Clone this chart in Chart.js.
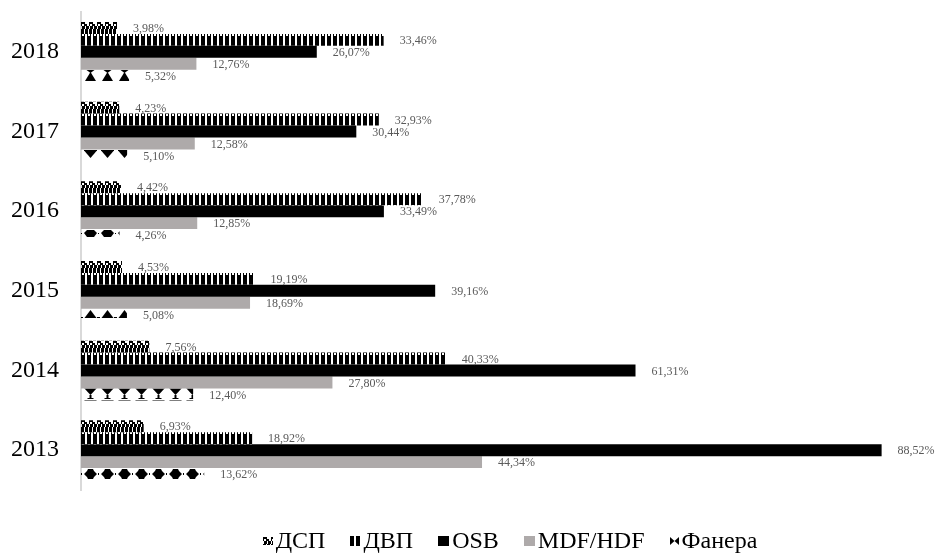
<!DOCTYPE html>
<html>
<head>
<meta charset="utf-8">
<script src="https://cdn.jsdelivr.net/npm/chart.js@4.4.0/dist/chart.umd.min.js"></script>
<style>
	html, body { margin: 0; padding: 0; background: #fff; }
</style>
</head>
<body>
<canvas id="myChart" width="939" height="553"></canvas>
<script>
const years = ["2018", "2017", "2016", "2015", "2014", "2013"];
const seriesNames = ["ДСП", "ДВП", "OSB", "MDF/HDF", "Фанера"];
const dspValues = [3.98, 4.23, 4.42, 4.53, 7.56, 6.93];
const dvpValues = [33.46, 32.93, 37.78, 19.19, 40.33, 18.92];
const osbValues = [26.07, 30.44, 33.49, 39.16, 61.31, 88.52];
const mdfValues = [12.76, 12.58, 12.85, 18.69, 27.8, 44.34];
const fanValues = [5.32, 5.1, 4.26, 5.08, 12.4, 13.62];

const FONT = "'Liberation Serif', 'Times New Roman', serif";
const GREY = "#aeaaaa";

const canvas = document.getElementById("myChart");
const ctx = canvas.getContext("2d");

// small offscreen tile -> fill pattern
function makeTile(w, h, draw) {
	const c = document.createElement("canvas");
	c.width = w;
	c.height = h;
	const t = c.getContext("2d");
	t.fillStyle = "#000";
	draw(t);
	return c;
}

function poly(t, pts) {
	t.beginPath();
	t.moveTo(pts[0][0], pts[0][1]);
	for (let i = 1; i < pts.length; i++) t.lineTo(pts[i][0], pts[i][1]);
	t.closePath();
	t.fill();
}

// ДСП: confetti squares on top, stripes below
const dspTile = makeTile(8, 12, (t) => {
	t.fillRect(0, 0, 4, 2);
	t.fillRect(0, 2, 1, 2);
	t.fillRect(3, 2, 3, 2);
	t.fillRect(1, 4, 3, 3);
	t.fillRect(5, 4, 3, 3);
	t.fillRect(0, 7, 3, 5);
	t.fillRect(4, 7, 3, 5);
});

// ДВП: vertical stripes
const dvpTile = makeTile(6, 12, (t) => {
	t.fillRect(0, 0, 4, 12);
	t.fillStyle = "#fff";
	t.fillRect(1, 0, 2, 2);
});

// Фанера: a different slice of the motif for each year
const fanTiles = {
	hourglass: makeTile(17, 12, (t) => {
		poly(t, [[5.5, 0], [13.5, 0], [9.5, 3]]);
		poly(t, [[9.5, 2], [15, 11], [4, 11]]);
	}),
	down: makeTile(17, 12, (t) => {
		t.fillRect(3, 1, 13, 1);
		poly(t, [[3.5, 2], [15.5, 2], [9.5, 9]]);
	}),
	diamondTop: makeTile(17, 12, (t) => {
		poly(t, [[3, 4], [6, 1], [13, 1], [16, 4], [13, 8], [6, 8]]);
		t.fillRect(0, 4, 1, 1);
	}),
	up: makeTile(17, 12, (t) => {
		poly(t, [[9.5, 1], [15.5, 9], [3.5, 9]]);
		t.fillRect(0, 8, 2, 1);
		t.fillRect(16, 8, 1, 1);
	}),
	downStem: makeTile(17, 12, (t) => {
		poly(t, [[3, 0], [16, 0], [9.5, 7]]);
		t.fillRect(8.5, 7, 2, 3);
		t.fillRect(6.5, 10, 6, 1);
	}),
	diamond: makeTile(17, 12, (t) => {
		poly(t, [[3, 6], [6, 3], [7, 1], [12, 1], [13, 3], [16, 6], [13, 9], [12, 11], [7, 11], [6, 9]]);
		t.fillRect(0, 5, 1, 2);
	}),
};
const fanOrder = ["hourglass", "down", "diamondTop", "up", "downStem", "diamond"];

// one pattern object per bar, so each one can be pinned to its own bar
const dspPatterns = years.map(() => ctx.createPattern(dspTile, "repeat"));
const dvpPatterns = years.map(() => ctx.createPattern(dvpTile, "repeat"));
const fanPatterns = fanOrder.map((k) => ctx.createPattern(fanTiles[k], "repeat"));

const pinPatterns = {
	id: "pinPatterns",
	beforeDatasetsDraw(chart) {
		chart.data.datasets.forEach((ds, di) => {
			if (!Array.isArray(ds.backgroundColor)) return;
			chart.getDatasetMeta(di).data.forEach((bar, i) => {
				const p = ds.backgroundColor[i];
				if (p && p.setTransform) {
					p.setTransform(new DOMMatrix().translate(Math.round(bar.base), Math.round(bar.y - bar.height / 2)));
				}
			});
		});
	},
};

// value labels to the right of each bar
const barLabels = {
	id: "barLabels",
	afterDatasetsDraw(chart) {
		const c = chart.ctx;
		c.save();
		c.font = "12px " + FONT;
		c.fillStyle = "#595959";
		c.textAlign = "left";
		c.textBaseline = "middle";
		chart.data.datasets.forEach((ds, di) => {
			chart.getDatasetMeta(di).data.forEach((bar, i) => {
				const txt = ds.data[i].toFixed(2).replace(".", ",") + "%";
				c.fillText(txt, bar.x + 16, bar.y + 1);
			});
		});
		c.restore();
	},
};

// legend row at the bottom
const bottomLegend = {
	id: "bottomLegend",
	afterDraw(chart) {
		const c = chart.ctx;
		const cy = 541;
		c.save();
		c.font = "24px " + FONT;
		c.textBaseline = "alphabetic";
		const icons = [10, 10, 11, 11, 9];
		const gapIcon = 3;
		const gapItem = 25;
		const widths = seriesNames.map((n, i) => icons[i] + gapIcon + c.measureText(n).width);
		const total = widths.reduce((a, b) => a + b, 0) + gapItem * (seriesNames.length - 1);
		let x = 510 - total / 2;
		seriesNames.forEach((name, i) => {
			if (i === 0) {
				const p = c.createPattern(dspTile, "repeat");
				p.setTransform(new DOMMatrix().translate(Math.round(x), cy - 4));
				c.fillStyle = p;
				c.fillRect(Math.round(x), cy - 4, 10, 8);
			} else if (i === 1) {
				c.fillStyle = "#000";
				c.fillRect(Math.round(x), cy - 5, 4, 10);
				c.fillRect(Math.round(x) + 6, cy - 5, 4, 10);
			} else if (i === 2 || i === 3) {
				c.fillStyle = i === 2 ? "#000" : GREY;
				c.fillRect(Math.round(x), cy - 5, 11, 10);
			} else {
				c.fillStyle = "#000";
				const x0 = Math.round(x);
				poly(c, [[x0, cy - 4], [x0 + 4.5, cy], [x0, cy + 4]]);
				poly(c, [[x0 + 9, cy - 4], [x0 + 4.5, cy], [x0 + 9, cy + 4]]);
			}
			c.fillStyle = "#000";
			c.fillText(name, x + icons[i] + gapIcon, cy + 7);
			x += widths[i] + gapItem;
		});
		c.restore();
	},
};

const myChart = new Chart(ctx, {
	type: "bar",
	data: {
		labels: years,
		datasets: [
			{ label: seriesNames[0], data: dspValues, backgroundColor: dspPatterns },
			{ label: seriesNames[1], data: dvpValues, backgroundColor: dvpPatterns },
			{ label: seriesNames[2], data: osbValues, backgroundColor: "#000" },
			{ label: seriesNames[3], data: mdfValues, backgroundColor: GREY },
			{ label: seriesNames[4], data: fanValues, backgroundColor: fanPatterns },
		],
	},
	options: {
		indexAxis: "y",
		responsive: false,
		animation: false,
		devicePixelRatio: 1,
		barPercentage: 1,
		categoryPercentage: 0.75,
		borderWidth: 0,
		layout: {
			padding: { top: 12, right: 44, bottom: 63, left: 0 },
		},
		plugins: {
			legend: { display: false },
			tooltip: { enabled: false },
		},
		scales: {
			x: {
				display: false,
				min: 0,
				max: 90,
			},
			y: {
				grid: { display: false, drawTicks: false },
				border: { display: true, color: "#d9d9d9", width: 2 },
				ticks: {
					color: "#000",
					padding: 22,
					font: { family: FONT, size: 24 },
				},
				afterFit(axis) {
					// fixed axis width, and no extra room for the end labels
					axis.width = 81;
					axis.paddingTop = 0;
					axis.paddingBottom = 0;
				},
			},
		},
	},
	plugins: [pinPatterns, barLabels, bottomLegend],
});
</script>
</body>
</html>
